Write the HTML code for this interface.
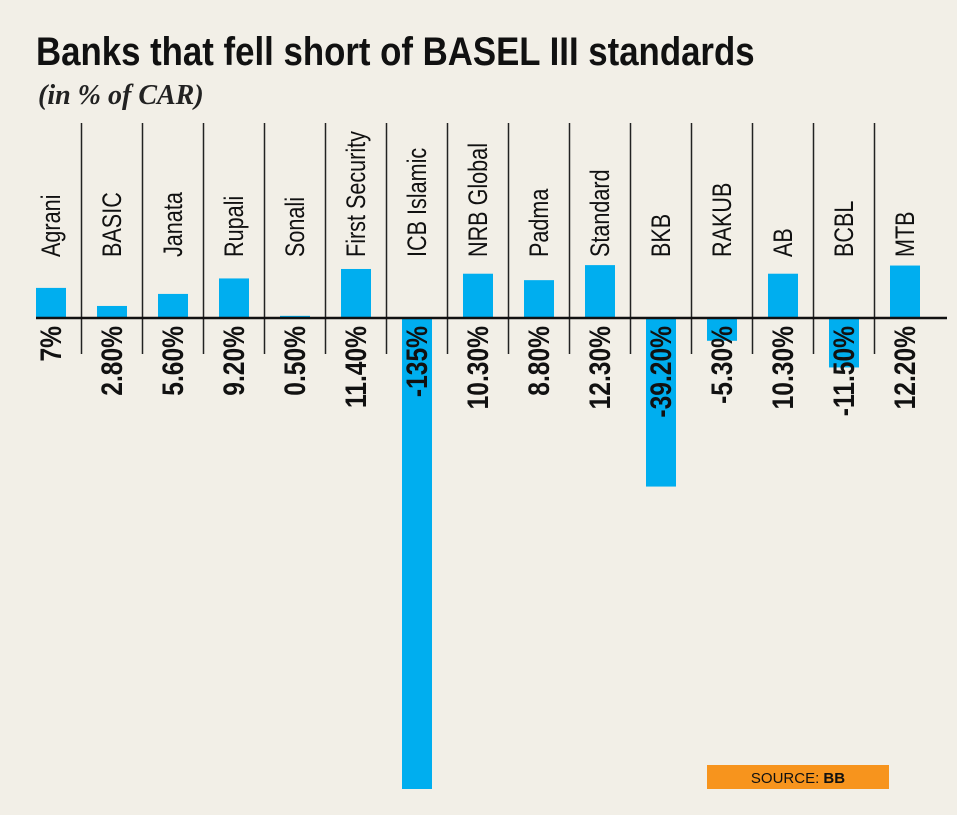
<!DOCTYPE html>
<html><head><meta charset="utf-8"><style>
body{margin:0;background:#f2efe7;}
svg{display:block;font-family:"Liberation Sans",sans-serif;}
</style></head><body>
<svg width="957" height="815">
<rect width="957" height="815" fill="#f2efe7"/>
<text x="36" y="65" font-size="40" font-weight="bold" fill="#111" transform="translate(36 0) scale(0.87 1) translate(-36 0)">Banks that fell short of BASEL III standards</text>
<text x="38" y="104" font-size="28" font-style="italic" font-weight="bold" font-family="Liberation Serif,serif" fill="#222">(in % of CAR)</text>
<g id="plot"></g>
<rect x="707" y="765" width="182" height="24" fill="#f7941d"/>
<text x="798" y="783" font-size="15" text-anchor="middle" fill="#111">SOURCE: <tspan font-weight="bold">BB</tspan></text>
</svg>
<script>
const categories=["Agrani","BASIC","Janata","Rupali","Sonali","First Security","ICB Islamic","NRB Global","Padma","Standard","BKB","RAKUB","AB","BCBL","MTB"];
const values=[7,2.8,5.6,9.2,0.5,11.4,-135,10.3,8.8,12.3,-39.2,-5.3,10.3,-11.5,12.2];
const valueLabels=["7%","2.80%","5.60%","9.20%","0.50%","11.40%","-135%","10.30%","8.80%","12.30%","-39.20%","-5.30%","10.30%","-11.50%","12.20%"];
const NS="http://www.w3.org/2000/svg";
const g=document.getElementById('plot');
const baseY=318, scale=4.3, maxDown=789;
const xc=i=>51+61*i;
const y=v=>Math.min(maxDown,baseY-v*scale);
function mk(t,a){const e=document.createElementNS(NS,t);for(const k in a)e.setAttribute(k,a[k]);g.appendChild(e);return e;}
for(let i=1;i<categories.length;i++){
  const l=mk('line',{x1:xc(i)-30.5,x2:xc(i)-30.5,y1:123,y2:354,stroke:'#222','stroke-width':1.5});
  
  
}
categories.forEach((c,i)=>{
  const v=values[i],x=xc(i);
  const yt=Math.min(y(v),baseY),yb=Math.max(y(v),baseY);
  const r=mk('rect',{x:x-15,y:yt,width:30,height:yb-yt,fill:'#00aeef'});
  
  
  const t=mk('text',{transform:`translate(${x+9} 257) rotate(-90) scale(0.8 1)`,'font-size':27,fill:'#111'});
  t.textContent=c;
  
  
  const vt=mk('text',{transform:`translate(${x+10} 326) rotate(-90) scale(0.82 1)`,'font-size':30,'font-weight':'bold','text-anchor':'end',fill:'#111'});
  vt.textContent=valueLabels[i];
  
  
});
const ax=mk('line',{x1:36,x2:947,y1:baseY,y2:baseY,stroke:'#111','stroke-width':2.5});


</script>
</body></html>
